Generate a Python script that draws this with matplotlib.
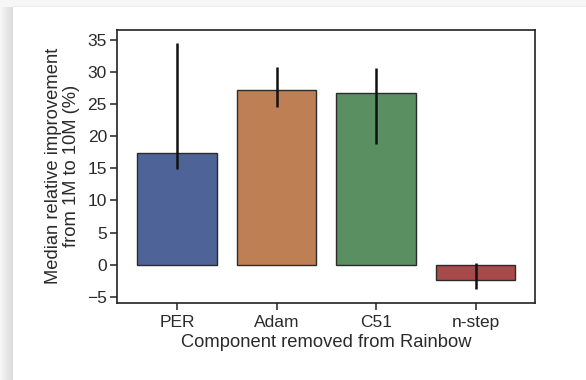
import matplotlib
matplotlib.use("Agg")
import matplotlib.pyplot as plt
import numpy as np

# Median relative improvement per removed component, with CI bounds
components = ["PER", "Adam", "C51", "n-step"]
median_gain = [17.4, 27.1, 26.75, -2.35]
ci_low = [14.9, 24.5, 18.7, -3.8]
ci_high = [34.5, 30.7, 30.6, 0.35]

plt.rcParams['font.family'] = ['Liberation Sans', 'DejaVu Sans']

# muted blue / orange / green / red
colors = ["#4e6398", "#bf7f55", "#5a8f62", "#a84a4a"]

fig = plt.figure(figsize=(5.86, 3.8), dpi=100)
fig.patch.set_facecolor("white")

# soft card shadow along the left and top edges
bg = fig.add_axes([0, 0, 1, 1], zorder=-10)
bg.set_xlim(0, 586)
bg.set_ylim(380, 0)
bg.axis("off")
grad = np.linspace(0.97, 0.86, 13).reshape(1, -1)
bg.imshow(grad, extent=(0, 13, 380, 7), cmap="gray", vmin=0, vmax=1,
          aspect="auto", interpolation="bilinear")
bg.fill_between([0, 586], 0, 7, color="#f6f6f6", lw=0)
bg.fill_between([13, 586], 6, 7, color="#ececec", lw=0)

ax = fig.add_axes([0.2002, 0.2034, 0.7133, 0.7177])
x = np.arange(len(components))
ax.bar(x, median_gain, width=0.8, color=colors, edgecolor="#2b2b2b",
       linewidth=1.0, zorder=2)
for xi, lo, hi in zip(x, ci_low, ci_high):
    ax.plot([xi, xi], [lo, hi], color="#111111", lw=1.8, zorder=3,
            solid_capstyle="butt")

ax.set_xlim(-0.6, 3.6)
ax.set_ylim(-5.9, 36.5)
ax.set_yticks(range(-5, 36, 5))
ax.set_xticks(x)
ax.set_xticklabels(components)

for s in ax.spines.values():
    s.set_color("#222222")
    s.set_linewidth(1.2)
ax.tick_params(axis="both", direction="out", length=5, width=1.1,
               color="#222222", labelsize=12.5, labelcolor="#2a2a2a", pad=2.5)
ax.tick_params(axis="x", pad=4)

ax.set_xlabel("Component removed from Rainbow", fontsize=13.2,
              color="#2a2a2a", labelpad=2.5)
ax.set_ylabel("Median relative improvement\nfrom 1M to 10M (%)",
              fontsize=13.2, color="#2a2a2a", labelpad=5, linespacing=1.05)

fig.savefig("out.png", dpi=100)
